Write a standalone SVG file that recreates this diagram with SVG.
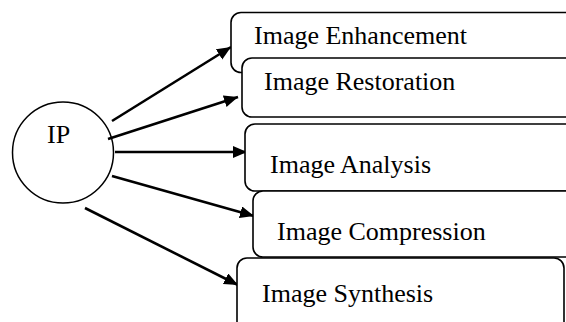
<svg xmlns="http://www.w3.org/2000/svg" width="566" height="322" viewBox="0 0 566 322">
  <style>
    .box { fill: #ffffff; stroke: #000000; stroke-width: 1.6; }
    .hub { fill: #ffffff; stroke: #000000; stroke-width: 1.5; }
    .label { font-family: "Liberation Serif", "Times New Roman", serif; font-size: 26px; fill: #000000; }
    .arrow { stroke: #000000; stroke-width: 2.6; fill: none; marker-end: url(#head); }
  </style>
  <defs>
    <marker id="head" markerUnits="userSpaceOnUse" markerWidth="15" markerHeight="13" refX="14" refY="6" orient="auto">
      <path d="M0,0 L14,6 L0,12 z" fill="#000000"/>
    </marker>
  </defs>
  <rect width="566" height="322" fill="#ffffff"/>

  <g id="ip">
    <circle class="hub" cx="63" cy="152.5" r="50.5"/>
    <text class="label" x="47" y="143">IP</text>
  </g>

  <g id="connectors">
    <line class="arrow" x1="112" y1="121" x2="231" y2="47"/>
    <line class="arrow" x1="108" y1="139" x2="238" y2="97"/>
    <line class="arrow" x1="115" y1="152" x2="247" y2="152"/>
    <line class="arrow" x1="112" y1="176" x2="254" y2="216"/>
    <line class="arrow" x1="85" y1="208" x2="238" y2="285"/>
  </g>

  <g id="enhancement">
    <rect class="box" x="231" y="12.5" width="380" height="60" rx="10"/>
    <text class="label" x="254" y="44">Image Enhancement</text>
  </g>
  <g id="restoration">
    <rect class="box" x="242" y="58" width="380" height="59" rx="10"/>
    <text class="label" x="264" y="90">Image Restoration</text>
  </g>
  <g id="analysis">
    <rect class="box" x="245" y="124" width="380" height="67" rx="10"/>
    <text class="label" x="270" y="173">Image Analysis</text>
  </g>
  <g id="compression">
    <rect class="box" x="253" y="191" width="380" height="66" rx="10"/>
    <text class="label" x="277" y="240">Image Compression</text>
  </g>
  <g id="synthesis">
    <rect class="box" x="237" y="258" width="327" height="90" rx="10"/>
    <text class="label" x="262" y="302">Image Synthesis</text>
  </g>
</svg>
